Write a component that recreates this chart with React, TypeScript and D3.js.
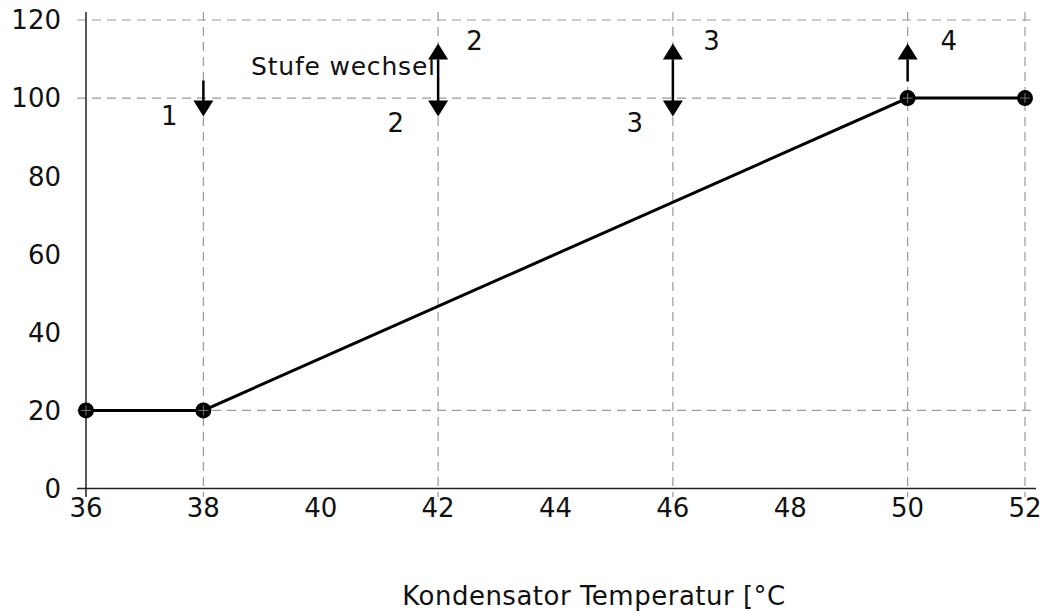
import React from "react";
import * as d3 from "d3";

const xTicks = [36, 38, 40, 42, 44, 46, 48, 50, 52];
const yTicks = [0, 20, 40, 60, 80, 100, 120];
const hGrid = [20, 100, 120];
const vGrid = [38, 42, 46, 50, 52];
const lineX = [36, 38, 50, 52];
const lineY = [20, 20, 100, 100];

// arrows: x position, direction type
const arrowX = [38, 42, 46, 50];
const arrowType = ["down", "both", "both", "up"];
const arrowLabels = ["1", "2", "2", "3", "3", "4"];
const arrowLabelX = [37.42, 41.28, 42.62, 45.35, 46.66, 50.7];
const arrowLabelY = [93, 91.3, 112.4, 91.3, 112.4, 112.4];
const noteText = "Stufe wechsel";
const xTitle = "Kondensator Temperatur [°C";

const W = 1043;
const H = 612;
const FONT = "DejaVu Sans";

export default function App() {
  const x = d3.scaleLinear().domain([36, 52]).range([86, 1025]);
  const y = d3.scaleLinear().domain([0, 120]).range([488.5, 20]);
  const line = d3
    .line<number>()
    .x((_, i) => x(lineX[i]))
    .y((d) => y(d));

  const headW = 10;
  const headH = 16;
  const topTip = y(114);
  const botTip = y(95.3);
  const shaftTop = y(104.5);

  return (
    <svg
      width={W}
      height={H}
      style={{ position: "absolute", left: 0, top: 0, background: "#fff" }}
      fontFamily={FONT}
    >
      {/* grid */}
      {hGrid.map((v) => (
        <line
          key={"h" + v}
          x1={77}
          x2={1036}
          y1={y(v)}
          y2={y(v)}
          stroke="#9a9a9a"
          strokeWidth={1.2}
          strokeDasharray="9,6"
        />
      ))}
      {vGrid.map((v) => (
        <line
          key={"v" + v}
          x1={x(v)}
          x2={x(v)}
          y1={12}
          y2={497}
          stroke="#9a9a9a"
          strokeWidth={1.2}
          strokeDasharray="9,6"
        />
      ))}
      {/* axes */}
      <line x1={x(36)} x2={x(36)} y1={12} y2={497} stroke="#222" strokeWidth={1.5} />
      <line x1={77} x2={1036} y1={y(0)} y2={y(0)} stroke="#222" strokeWidth={1.5} />
      {yTicks.map((v) => (
        <text
          key={"yt" + v}
          x={61}
          y={y(v)}
          dy="0.36em"
          textAnchor="end"
          fontSize={26}
          fill="#111"
        >
          {v}
        </text>
      ))}
      {xTicks.map((v) => (
        <text
          key={"xt" + v}
          x={x(v)}
          y={517}
          textAnchor="middle"
          fontSize={26}
          fill="#111"
        >
          {v}
        </text>
      ))}
      <text x={594} y={605} textAnchor="middle" fontSize={26} letterSpacing={0.5} fill="#111">
        {xTitle}
      </text>
      {/* data line */}
      <path d={line(lineY) || ""} fill="none" stroke="#000" strokeWidth={3} />
      {lineY.map((v, i) => (
        <g key={"m" + i}>
          <circle cx={x(lineX[i])} cy={y(v)} r={8} fill="#000" />
          <line
            x1={x(lineX[i]) - 5}
            x2={x(lineX[i]) + 5}
            y1={y(v)}
            y2={y(v)}
            stroke="#777"
            strokeWidth={1}
          />
          <line
            x1={x(lineX[i])}
            x2={x(lineX[i])}
            y1={y(v) - 5}
            y2={y(v) + 5}
            stroke="#777"
            strokeWidth={1}
          />
        </g>
      ))}
      {/* arrows */}
      {arrowX.map((v, i) => {
        const cx = x(v);
        const t = arrowType[i];
        const sTop = t === "down" ? shaftTop : topTip + headH;
        const sBot = t === "up" ? shaftTop : botTip - headH;
        return (
          <g key={"a" + i}>
            <line x1={cx} x2={cx} y1={sTop} y2={sBot + 1} stroke="#000" strokeWidth={2.5} />
            {t !== "down" && (
              <path
                d={`M${cx},${topTip} L${cx - headW},${topTip + headH} L${cx + headW},${topTip + headH} Z`}
                fill="#000"
              />
            )}
            {t !== "up" && (
              <path
                d={`M${cx},${botTip} L${cx - headW},${botTip - headH} L${cx + headW},${botTip - headH} Z`}
                fill="#000"
              />
            )}
          </g>
        );
      })}
      {arrowLabels.map((l, i) => (
        <text
          key={"al" + i}
          x={x(arrowLabelX[i])}
          y={y(arrowLabelY[i])}
          textAnchor="middle"
          fontSize={26}
          fill="#111"
        >
          {l}
        </text>
      ))}
      <text x={251} y={75} fontSize={25} letterSpacing={0.8} fill="#111">
        {noteText}
      </text>
    </svg>
  );
}
